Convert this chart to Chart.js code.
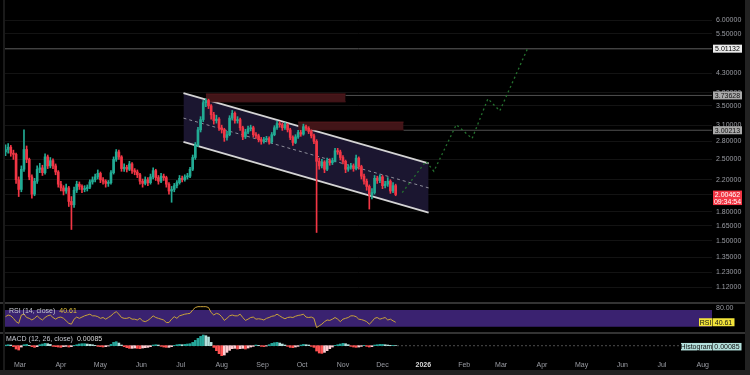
<!DOCTYPE html>
<html><head><meta charset="utf-8">
<script src="https://cdn.jsdelivr.net/npm/chart.js@4/dist/chart.umd.min.js"></script>
<style>
html,body{margin:0;padding:0;background:#000;width:750px;height:375px;overflow:hidden;position:relative;}
canvas{position:absolute;left:0;}
.deco{position:absolute;}
</style></head><body>
<canvas id="main" width="750" height="302" style="top:0"></canvas>
<canvas id="rsi" width="750" height="28" style="top:304px"></canvas>
<canvas id="macd" width="750" height="36" style="top:334px"></canvas>
<div class="deco" style="left:0;top:302px;width:745px;height:2px;background:#333"></div>
<div class="deco" style="left:0;top:332px;width:745px;height:2px;background:#333"></div>
<div class="deco" style="left:3px;top:0;width:2px;height:370px;background:#1a1a1a"></div>
<div class="deco" style="left:745px;top:0;width:5px;height:375px;background:#222"></div>
<div class="deco" style="left:0;top:370px;width:750px;height:5px;background:#222"></div>
<script>
// ---------------- DATA ----------------
const candleStartDate = '2025-02-18';
const candleStepDays = 2;
const opens = [2.62,2.66,2.70,2.60,2.58,2.20,2.07,2.35,2.66,2.50,2.24,2.01,2.18,2.35,2.37,2.30,2.54,2.40,2.48,2.40,
2.31,2.14,2.09,2.05,2.09,1.92,1.88,2.06,2.14,2.11,2.07,2.08,2.10,2.17,2.20,2.24,2.29,2.20,2.18,2.15,
2.16,2.30,2.50,2.62,2.54,2.36,2.38,2.35,2.43,2.33,2.31,2.27,2.18,2.15,2.20,2.16,2.24,2.33,2.23,2.18,
2.25,2.23,2.14,2.05,2.07,2.12,2.16,2.22,2.20,2.24,2.25,2.35,2.53,2.74,3.01,3.21,3.57,3.62,3.50,3.31,
3.19,3.22,3.05,3.01,2.87,2.92,3.24,3.34,3.19,3.21,3.05,2.88,2.97,3.03,3.05,2.92,2.90,2.83,2.80,2.83,
2.85,2.79,2.92,3.05,3.13,3.11,3.05,3.11,3.01,2.87,2.78,2.88,2.96,2.93,3.07,3.04,2.98,2.90,2.80,2.47,
2.40,2.46,2.35,2.48,2.45,2.48,2.64,2.62,2.53,2.47,2.35,2.38,2.40,2.36,2.52,2.39,2.25,2.18,2.11,2.00,
2.03,2.22,2.19,2.24,2.12,2.14,2.18,2.05,2.12];
const highs = [2.74,2.76,2.73,2.65,2.60,2.24,2.40,3.01,2.72,2.52,2.27,2.22,2.40,2.44,2.41,2.59,2.57,2.53,2.51,2.43,
2.33,2.18,2.12,2.14,2.11,1.98,2.10,2.18,2.17,2.13,2.12,2.13,2.20,2.24,2.28,2.34,2.31,2.23,2.20,2.19,
2.33,2.54,2.66,2.65,2.56,2.43,2.41,2.47,2.45,2.36,2.34,2.29,2.21,2.24,2.23,2.28,2.37,2.35,2.26,2.29,
2.28,2.25,2.16,2.11,2.15,2.19,2.26,2.25,2.27,2.29,2.38,2.57,2.78,3.06,3.27,3.62,3.66,3.65,3.53,3.36,
3.30,3.25,3.10,3.04,2.98,3.29,3.40,3.37,3.27,3.24,3.08,3.02,3.08,3.10,3.08,2.96,2.93,2.87,2.87,2.89,
2.88,2.96,3.09,3.18,3.17,3.14,3.15,3.13,3.04,2.90,2.92,3.00,3.00,3.12,3.10,3.07,3.01,2.93,2.83,2.52,
2.50,2.48,2.52,2.51,2.52,2.68,2.68,2.65,2.56,2.49,2.42,2.44,2.43,2.57,2.54,2.41,2.28,2.21,2.13,2.08,
2.26,2.25,2.27,2.26,2.18,2.23,2.20,2.16,2.14];
const lows = [2.56,2.60,2.55,2.50,2.15,1.98,2.04,2.32,2.45,2.20,1.96,1.99,2.15,2.30,2.26,2.28,2.36,2.37,2.36,2.27,
2.10,2.05,2.00,2.02,1.86,1.61,1.85,2.03,2.07,2.03,2.04,2.05,2.08,2.14,2.17,2.21,2.16,2.14,2.10,2.11,
2.14,2.28,2.47,2.50,2.32,2.32,2.31,2.33,2.29,2.27,2.23,2.14,2.10,2.13,2.12,2.14,2.21,2.19,2.14,2.16,
2.19,2.10,2.01,1.91,2.04,2.09,2.14,2.17,2.18,2.21,2.23,2.33,2.50,2.71,2.97,3.17,3.48,3.44,3.22,3.12,
3.14,3.00,2.95,2.80,2.82,2.90,3.20,3.14,3.14,3.00,2.83,2.85,2.94,2.99,2.88,2.85,2.79,2.75,2.77,2.80,
2.75,2.77,2.90,3.02,3.06,3.00,3.02,2.97,2.83,2.73,2.76,2.85,2.89,2.91,3.00,2.94,2.86,2.76,1.58,2.35,
2.37,2.30,2.33,2.41,2.42,2.46,2.58,2.49,2.43,2.30,2.32,2.35,2.32,2.34,2.35,2.21,2.14,2.06,1.83,1.95,
2.01,2.15,2.16,2.08,2.09,2.11,2.02,2.03,1.99];
const closes = [2.66,2.70,2.60,2.58,2.20,2.07,2.35,2.66,2.50,2.24,2.01,2.18,2.35,2.37,2.30,2.54,2.40,2.48,2.40,2.31,
2.14,2.09,2.05,2.09,1.92,1.88,2.06,2.14,2.11,2.07,2.08,2.10,2.17,2.20,2.24,2.29,2.20,2.18,2.15,2.16,
2.30,2.50,2.62,2.54,2.36,2.38,2.35,2.43,2.33,2.31,2.27,2.18,2.15,2.20,2.16,2.24,2.33,2.23,2.18,2.25,
2.23,2.14,2.05,2.07,2.12,2.16,2.22,2.20,2.24,2.25,2.35,2.53,2.74,3.01,3.21,3.57,3.62,3.50,3.31,3.19,
3.22,3.05,3.01,2.87,2.92,3.24,3.34,3.19,3.21,3.05,2.88,2.97,3.03,3.05,2.92,2.90,2.83,2.80,2.83,2.85,
2.79,2.92,3.05,3.13,3.11,3.05,3.11,3.01,2.87,2.78,2.88,2.96,2.93,3.07,3.04,2.98,2.90,2.80,2.47,2.40,
2.46,2.35,2.48,2.45,2.48,2.64,2.62,2.53,2.47,2.35,2.38,2.40,2.36,2.52,2.39,2.25,2.18,2.11,2.00,2.03,
2.22,2.19,2.24,2.12,2.14,2.18,2.05,2.12,2.00462];
const rsiValues = [54,58,56,50,42,38,58,60,52,50, 46,50,56,50,46,52,56,58,52,48,
52,53,50,44,38,36,48,53,50,53, 56,58,60,56,56,54,50,52,48,52,
56,62,66,60,52,50,50,52,48,48, 46,50,44,42,45,50,56,52,50,48,
46,40,40,48,54,50,56,58,60,61, 62,70,76,78,78,78,78,76,64,58,
62,60,54,45,50,56,58,56,56,60, 52,45,48,52,53,48,49,48,46,50,
52,55,56,60,56,52,49,52,53,52, 55,57,58,60,53,52,53,50,28,32,
36,42,46,45,48,52,48,42,48,50, 52,56,56,54,48,47,45,42,36,42,
50,52,48,50,52,46,48,44,40.61];
const macdHist = [0.006,0.009,0.006,-0.009,-0.030,-0.039,-0.012,0.009,0.012,0.003,
-0.009,-0.015,-0.009,0.009,0.015,0.021,0.018,0.012,-0.006,-0.009,
-0.012,-0.015,-0.009,-0.006,-0.012,-0.009,0.003,0.009,0.015,0.018,
0.018,0.015,0.012,0.009,0.003,-0.006,-0.009,-0.012,-0.009,-0.003,
0.012,0.030,0.036,0.024,0.006,-0.009,-0.018,-0.024,-0.024,-0.021,
-0.024,-0.027,-0.021,-0.018,-0.015,-0.009,0.006,0.009,0.006,-0.006,
-0.012,-0.015,-0.015,-0.009,0.003,0.009,0.012,0.009,0.012,0.015,
0.018,0.030,0.048,0.066,0.084,0.096,0.090,0.078,0.030,-0.015,
-0.045,-0.072,-0.090,-0.084,-0.060,-0.042,-0.027,-0.024,-0.030,-0.027,
-0.024,-0.030,-0.021,-0.012,-0.006,0.006,0.003,-0.006,-0.009,-0.003,
0.009,0.021,0.027,0.030,0.024,0.015,0.006,-0.006,-0.015,-0.018,
-0.012,-0.006,0.006,0.012,0.009,0.006,-0.006,-0.015,-0.048,-0.066,
-0.069,-0.060,-0.045,-0.027,-0.012,0.003,0.009,0.015,0.021,0.018,
0.009,-0.006,-0.012,-0.015,-0.012,-0.006,0.003,-0.006,-0.012,-0.009,
0.006,0.009,0.012,0.012,0.009,0.006,0.003,0.003,0.00085];

const priceTicks = [6.0,5.5,5.0,4.3,3.8,3.5,3.1,2.8,2.5,2.2,2.0,1.8,1.65,1.5,1.35,1.23,1.12];
const monthTickDates = ['2025-03-01','2025-04-01','2025-05-01','2025-06-01','2025-07-01','2025-08-01','2025-09-01','2025-10-01','2025-11-01','2025-12-01','2026-01-01','2026-02-01','2026-03-01','2026-04-01','2026-05-01','2026-06-01','2026-07-01','2026-08-01'];
const monthTickLabels = ['Mar','Apr','May','Jun','Jul','Aug','Sep','Oct','Nov','Dec','2026','Feb','Mar','Apr','May','Jun','Jul','Aug'];

const channelDates = ['2025-07-03','2026-01-05'];
const channelUpper = [3.79, 2.44];
const channelMid = [3.24, 2.09];
const channelLower = [2.79, 1.79];

const zoneStartDates = ['2025-07-20','2025-09-28'];
const zoneEndDates = ['2025-11-03','2025-12-17'];
const zoneTops = [3.77, 3.16];
const zoneBottoms = [3.59, 3.01];

const levelValues = [5.01132, 3.73628, 3.00213];
const levelStartDates = [null, '2025-11-03', '2025-12-17'];

const projectionDates = ['2025-12-16','2026-01-03','2026-01-09','2026-01-26','2026-02-07','2026-02-19','2026-02-28','2026-03-21'];
const projectionPrices = [2.03, 2.47, 2.32, 3.11, 2.85, 3.66, 3.39, 5.01];

const lastPrice = 2.00462;
const countdown = '09:34:54';
const rsiLast = 40.61;
const macdLast = 0.00085;
const rsiBand = [70, 30];

// axis ranges (in days since 2025-03-01 and price units)
const xAxisMinDay = -11.4, xAxisMaxDay = 525.0;
const priceAxisMin = 1.021, priceAxisMax = 6.803;
const rsiAxisMin = 17.2, rsiAxisMax = 84.4;
const macdAxisMin = -0.1107, macdAxisMax = 0.1053;

// ---------------- HELPERS ----------------
const DAY0 = Date.UTC(2025, 2, 1);
function dayOf(s){ const [y,m,d] = s.split('-').map(Number); return (Date.UTC(y,m-1,d)-DAY0)/86400000; }
const startDay = dayOf(candleStartDate);
const candleDays = closes.map((_,i)=> startDay + i*candleStepDays);
const monthTickDays = monthTickDates.map(dayOf);
const UP = '#22ab94', DOWN = '#f23645';
const candleColors = closes.map((c,i)=> c >= opens[i] ? UP : DOWN);
const histColors = macdHist.map((h,i)=>{ const p = i ? macdHist[i-1] : h;
  if (h >= 0) return h >= p ? '#26a69a' : '#b2dfdb';
  return h < p ? '#ff5252' : '#ffcdd2'; });

Chart.defaults.font.family = "'Liberation Sans', Arial, sans-serif";
Chart.defaults.font.size = 7;

function seg(x0, x1, y0, y1, extra){
  return Object.assign({type:'line', data:[{x:x0,y:y0},{x:x1,y:y1}], pointRadius:0, tension:0, fill:false, borderWidth:1}, extra);
}
function badge(ctx, x, yc, w, h, bg, fg, text, bold){
  ctx.save();
  ctx.fillStyle = bg;
  ctx.fillRect(x, yc - h/2, w, h);
  ctx.fillStyle = fg;
  ctx.font = (bold?'bold ':'') + "7px 'Liberation Sans', Arial, sans-serif";
  ctx.textAlign = 'center'; ctx.textBaseline = 'middle';
  ctx.fillText(text, x + w/2, yc + 0.5);
  ctx.restore();
}
function rightAxisFit(s){ s.width = 38; s.paddingTop = 0; s.paddingBottom = 0; }
const baseOpts = { responsive:false, animation:false, events:[], layout:{padding:{left:5,right:0,top:0,bottom:0}},
  plugins:{legend:{display:false}, tooltip:{enabled:false}} };

// ---------------- MAIN CHART ----------------
const chDays = channelDates.map(dayOf);
const mainDatasets = [
  {type:'bar', data: candleDays.map((d,i)=>({x:d, y:[lows[i], highs[i]]})), backgroundColor: candleColors,
   grouped:false, barPercentage:1, categoryPercentage:1, maxBarThickness:1, order:1},
  {type:'bar', data: candleDays.map((d,i)=>({x:d, y:[opens[i], closes[i]]})), backgroundColor: candleColors,
   grouped:false, barPercentage:1, categoryPercentage:1, maxBarThickness:2, minBarLength:1, order:0},
  seg(chDays[0], chDays[1], channelUpper[0], channelUpper[1], {borderColor:'#d4d4d4', borderWidth:1.8, fill:3, backgroundColor:'#1b1630', order:12}),
  seg(chDays[0], chDays[1], channelLower[0], channelLower[1], {borderColor:'#d4d4d4', borderWidth:1.8, order:11}),
  seg(chDays[0], chDays[1], channelMid[0], channelMid[1], {borderColor:'#8e8e9a', borderWidth:1, borderDash:[3,3], order:10}),
];
zoneTops.forEach((t,i)=>{
  const a = dayOf(zoneStartDates[i]), b = dayOf(zoneEndDates[i]);
  const idx = mainDatasets.length;
  mainDatasets.push(seg(a, b, t, t, {borderColor:'#561a1d', fill: idx+1, backgroundColor:'#421518', order:9}));
  mainDatasets.push(seg(a, b, zoneBottoms[i], zoneBottoms[i], {borderColor:'#561a1d', order:9}));
});
levelValues.forEach((v,i)=>{
  const a = levelStartDates[i] ? dayOf(levelStartDates[i]) : xAxisMinDay;
  mainDatasets.push(seg(a, xAxisMaxDay, v, v, {borderColor:'#505050', borderWidth:1, order:8}));
});
mainDatasets.push({type:'line', data: projectionDates.map((d,i)=>({x:dayOf(d), y:projectionPrices[i]})),
  borderColor:'#24722f', borderWidth:1.3, borderDash:[2,3], pointRadius:0, tension:0, fill:false, order:2});

new Chart(document.getElementById('main'), {
  type:'bar',
  data:{datasets: mainDatasets},
  options: Object.assign({}, baseOpts, {
    scales:{
      x:{type:'linear', display:false, min:xAxisMinDay, max:xAxisMaxDay, offset:false},
      y:{type:'logarithmic', position:'right', min:priceAxisMin, max:priceAxisMax, beginAtZero:false,
         afterBuildTicks: s=>{ s.ticks = priceTicks.map(v=>({value:v})); },
         afterFit: rightAxisFit,
         grid:{color:'#131313', drawTicks:false}, border:{display:false},
         ticks:{color:'#9a9ca3', padding:4, autoSkip:false, font:{size:7}, callback: v => Number(v).toFixed(5)}}
    }
  }),
  plugins:[{id:'priceBadges', afterDraw(chart){
    const ctx = chart.ctx, y = chart.scales.y, x0 = chart.chartArea.right + 1;
    const styles = [['#ececec','#000'],['#a9a9a9','#111'],['#a9a9a9','#111']];
    levelValues.forEach((v,i)=> badge(ctx, x0, y.getPixelForValue(v), 29, 8, styles[i][0], styles[i][1], v.toFixed(5)));
    const py = y.getPixelForValue(lastPrice);
    ctx.save(); ctx.fillStyle = DOWN; ctx.fillRect(x0, py - 4, 29, 14.5); ctx.restore();
    badge(ctx, x0, py, 29, 0, DOWN, '#fff', lastPrice.toFixed(5));
    badge(ctx, x0, py + 6.5, 29, 0, DOWN, '#fff', countdown);
  }}]
});

// ---------------- RSI CHART ----------------
new Chart(document.getElementById('rsi'), {
  type:'line',
  data:{datasets:[
    seg(xAxisMinDay, xAxisMaxDay, rsiBand[0], rsiBand[0], {borderWidth:0, fill:1, backgroundColor:'#3a2270', order:3}),
    seg(xAxisMinDay, xAxisMaxDay, rsiBand[1], rsiBand[1], {borderWidth:0, order:3}),
    {data: candleDays.map((d,i)=>({x:d, y:rsiValues[i]})), borderColor:'#c9a23a', borderWidth:1, pointRadius:0, tension:0, fill:false, order:0}
  ]},
  options: Object.assign({}, baseOpts, {
    scales:{
      x:{type:'linear', display:false, min:xAxisMinDay, max:xAxisMaxDay},
      y:{position:'right', min:rsiAxisMin, max:rsiAxisMax, afterFit: rightAxisFit,
         afterBuildTicks: s=>{ s.ticks = [{value:80}]; },
         grid:{display:false, drawTicks:false}, border:{display:false},
         ticks:{color:'#9a9ca3', padding:4, labelOffset:2.5, font:{size:7}, callback: v => Number(v).toFixed(2)}}
    }
  }),
  plugins:[{id:'rsiLabels', afterDraw(chart){
    const ctx = chart.ctx, a = chart.chartArea, y = chart.scales.y;
    ctx.save();
    ctx.font = "7px 'Liberation Sans', Arial, sans-serif"; ctx.textBaseline='middle'; ctx.textAlign='left';
    ctx.fillStyle = '#c8cad2'; const t = 'RSI (14, close)';
    ctx.fillText(t, a.left + 4, 6.7);
    const w = ctx.measureText(t).width;
    ctx.fillStyle = '#e2c23c'; ctx.fillText(rsiLast.toFixed(2), a.left + 4 + w + 4, 6.7);
    ctx.restore();
    const yc = y.getPixelForValue(rsiLast);
    badge(ctx, a.right - 13, yc, 13, 8, '#f2e33a', '#111', 'RSI');
    badge(ctx, a.right + 0.5, yc, 22, 8, '#f2e33a', '#111', rsiLast.toFixed(2));
  }}]
});

// ---------------- MACD CHART ----------------
new Chart(document.getElementById('macd'), {
  type:'bar',
  data:{datasets:[
    {type:'bar', data: candleDays.map((d,i)=>({x:d, y:macdHist[i]})), backgroundColor: histColors,
     grouped:false, barPercentage:1, categoryPercentage:1, maxBarThickness:2, order:0},
    seg(xAxisMinDay, xAxisMaxDay, 0, 0, {borderColor:'#4d4d4d', borderWidth:1, borderDash:[2,2], order:1})
  ]},
  options: Object.assign({}, baseOpts, {
    scales:{
      x:{type:'linear', position:'bottom', min:xAxisMinDay, max:xAxisMaxDay, offset:false,
         afterBuildTicks: s=>{ s.ticks = monthTickDays.map(v=>({value:v})); },
         afterFit: s=>{ s.height = 12; s.paddingLeft = 0; s.paddingRight = 0; },
         grid:{display:false, drawTicks:false}, border:{display:false},
         ticks:{autoSkip:false, maxRotation:0, padding:3,
           color: c => monthTickLabels[c.index]==='2026' ? '#d8d8d8' : '#9a9ca3',
           font: c => ({size:7, weight: monthTickLabels[c.index]==='2026' ? 'bold' : 'normal'}),
           callback: (v,i) => monthTickLabels[i]}},
      y:{position:'right', min:macdAxisMin, max:macdAxisMax, afterFit: rightAxisFit,
         grid:{display:false, drawTicks:false}, border:{display:false}, ticks:{display:false}}
    }
  }),
  plugins:[{id:'macdLabels', afterDraw(chart){
    const ctx = chart.ctx, a = chart.chartArea, y = chart.scales.y;
    ctx.save();
    ctx.font = "7px 'Liberation Sans', Arial, sans-serif"; ctx.textBaseline='middle'; ctx.textAlign='left';
    ctx.fillStyle = '#c8cad2'; const t = 'MACD (12, 26, close)';
    ctx.fillText(t, a.left + 1, 5.3);
    const w = ctx.measureText(t).width;
    ctx.fillStyle = '#d8d8d8'; ctx.fillText(macdLast.toFixed(5), a.left + 1 + w + 4, 5.3);
    ctx.restore();
    const yc = y.getPixelForValue(0) + 1;
    badge(ctx, a.right - 31, yc, 31, 7.5, '#b2dfdb', '#111', 'Histogram');
    badge(ctx, a.right + 0.5, yc, 29, 7.5, '#b2dfdb', '#111', macdLast.toFixed(5));
  }}]
});
</script>
</body></html>
